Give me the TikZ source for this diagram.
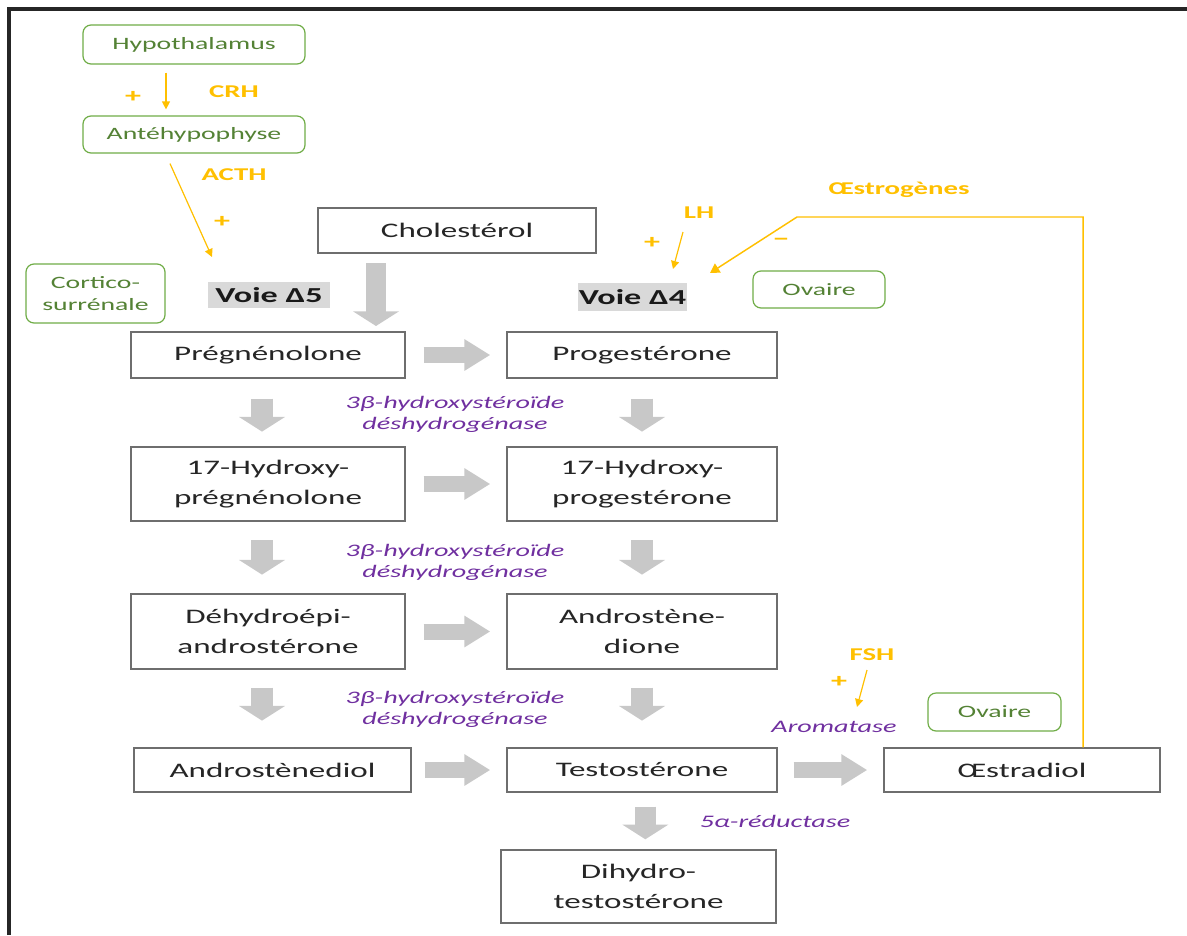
\documentclass[tikz,border=0pt]{standalone}
\usepackage{fontspec}
\setmainfont{Carlito}[FakeStretch=1.6]
\usetikzlibrary{arrows.meta,calc}
\definecolor{boxgray}{HTML}{6E6E6E}
\definecolor{fatgray}{HTML}{C8C8C8}
\definecolor{grnline}{HTML}{70AD47}
\definecolor{grntext}{HTML}{548235}
\definecolor{orng}{HTML}{FFC000}
\definecolor{purp}{HTML}{7030A0}
\definecolor{voiebg}{HTML}{D9D9D9}
\tikzset{
  box/.style={draw=boxgray, line width=1.1pt, fill=white, align=center, inner sep=0pt,
    font=\fontsize{15.5}{22.5}\selectfont, text=black!85},
  gbox/.style={draw=grnline, line width=0.9pt, rounded corners=6pt, align=center, inner sep=0pt,
    font=\fontsize{13}{17}\selectfont, text=grntext},
  voie/.style={fill=voiebg, inner sep=0pt, font=\bfseries\fontsize{16}{18}\selectfont, text=black!90},
  olabel/.style={text=orng, font=\bfseries\fontsize{13.5}{16}\selectfont},
  sign/.style={text=orng, font=\bfseries\fontsize{15}{16}\selectfont},
  enz/.style={text=purp, align=center, font=\itshape\fontsize{13.2}{15.75}\selectfont},
  oarrow/.style={draw=orng, line width=0.9pt, -{Triangle[width=6pt,length=6pt]}},
  hfat/.style={draw=fatgray, line width=12pt, -{Triangle[width=22.5pt,length=19.5pt]}},
  vfat/.style={draw=fatgray, line width=16pt, -{Triangle[width=34pt,length=11pt]}},
}
\begin{document}
\begin{tikzpicture}[x=0.75pt,y=-0.75pt]
\useasboundingbox (0,0) rectangle (1187,935);
\fill[white] (0,0) rectangle (1187,935);
% frame
\draw[line width=2.4pt, black!85] (9,935) -- (9,9) -- (1187,9);

% green boxes
\node[gbox, minimum width=166.5pt, minimum height=29.25pt] (hypo) at (194,44.5) {Hypothalamus};
\node[gbox, minimum width=166.5pt, minimum height=27.75pt] (ante) at (194,134.5) {Antéhypophyse};
\node[gbox, minimum width=104.25pt, minimum height=44.25pt] (cortico) at (95.5,293.5) {Cortico-\\surrénale};
\node[gbox, minimum width=99pt, minimum height=27.75pt] (ov1) at (819,289.5) {Ovaire};
\node[gbox, minimum width=99.75pt, minimum height=28.5pt] (ov2) at (994.5,712) {Ovaire};

% voie labels
\node[voie, minimum width=91.5pt, minimum height=19.5pt] (v5) at (269,295) {Voie Δ5};
\node[voie, minimum width=81.75pt, minimum height=21pt] (v4) at (632.5,297) {Voie Δ4};

% pathway boxes
\node[box, minimum width=208.5pt, minimum height=33.75pt] (chol) at (457,230.5) {Cholestérol};
\node[box, minimum width=205.5pt, minimum height=34.5pt] (preg) at (268,355) {Prégnénolone};
\node[box, minimum width=202.5pt, minimum height=34.5pt] (prog) at (642,355) {Progestérone};
\node[box, minimum width=205.5pt, minimum height=55.5pt] (hpreg) at (268,484) {17-Hydroxy-\\prégnénolone};
\node[box, minimum width=202.5pt, minimum height=55.5pt] (hprog) at (642,484) {17-Hydroxy-\\progestérone};
\node[box, minimum width=205.5pt, minimum height=56.25pt] (dhea) at (268,631.5) {Déhydroépi-\\androstérone};
\node[box, minimum width=202.5pt, minimum height=56.25pt] (andro) at (642,631.5) {Androstène-\\dione};
\node[box, minimum width=207.75pt, minimum height=33pt] (diol) at (272.5,770) {Androstènediol};
\node[box, minimum width=202.5pt, minimum height=33pt] (testo) at (642,770) {Testostérone};
\node[box, minimum width=207pt, minimum height=33pt] (estra) at (1022,770) {Œstradiol};
\node[box, minimum width=206.25pt, minimum height=54.75pt] (dht) at (638.5,886.5) {Dihydro-\\testostérone};

% fat gray arrows
\coordinate (cholA) at (376,263);
\coordinate (cholB) at (376,326);
\draw[vfat, line width=15pt] (cholA) -- (cholB);
\draw[hfat, shorten <=13.5pt, shorten >=12pt] (preg) -- (prog);
\draw[hfat, shorten <=13.5pt, shorten >=12pt] (hpreg) -- (hprog);
\draw[hfat, shorten <=13.5pt, shorten >=12pt] (dhea) -- (andro);
\draw[hfat, shorten <=9.75pt, shorten >=12pt] (diol) -- (testo);
\draw[hfat, shorten <=12pt, shorten >=12pt] (testo) -- (estra);
\draw[vfat, shorten <=15pt, shorten >=11pt] ([xshift=-4.5pt]preg.south) -- ([xshift=-4.5pt]hpreg.north);
\draw[vfat, shorten <=15pt, shorten >=11pt] (prog) -- (hprog);
\draw[vfat, shorten <=14pt, shorten >=14pt] ([xshift=-4.5pt]hpreg.south) -- ([xshift=-4.5pt]dhea.north);
\draw[vfat, shorten <=14pt, shorten >=14pt] (hprog) -- (andro);
\draw[vfat, shorten <=13.5pt, shorten >=20pt] ([xshift=-4.5pt]dhea.south) -- ([xshift=-4.5pt]diol.north -| dhea.south);
\draw[vfat, shorten <=13.5pt, shorten >=20pt] (andro) -- (testo);
\draw[vfat, shorten <=10.5pt, shorten >=7.5pt] ([xshift=2.5pt]testo.south) -- ([xshift=2.5pt]dht.north -| testo.south);

% enzyme labels
\node[enz] (enz1) at (455,414) {3β-hydroxystéroïde\\déshydrogénase};
\node[enz] (enz2) at (455,562) {3β-hydroxystéroïde\\déshydrogénase};
\node[enz] (enz3) at (455,709) {3β-hydroxystéroïde\\déshydrogénase};
\node[enz] (arom) at (834,727) {Aromatase};
\node[enz] (red) at (775,821) {5α-réductase};

% hormonal regulation
\draw[oarrow] ([xshift=-21pt,yshift=-6pt]hypo.south) -- ([xshift=-21pt,yshift=4.5pt]ante.north);
\node[olabel] (crh) at (234,92) {CRH};
\node[sign] (p1) at (133,97) {+};

\coordinate (acthend) at (212,257);
\draw[oarrow] ([xshift=-18pt,yshift=-7.5pt]ante.south) -- (acthend);
\node[olabel] (acth) at (234,175) {ACTH};
\node[sign] (p2) at (222,222) {+};

\coordinate (lhS) at (683,232);
\coordinate (lhE) at (673,269);
\draw[oarrow] (lhS) -- (lhE);
\node[olabel] (lh) at (699,213) {LH};
\node[sign] (p3) at (652,243) {+};

\coordinate (fbcorner) at (797,217);
\coordinate (fbend) at (710,273);
\draw[oarrow, line width=1.1pt, -{Triangle[width=8pt,length=7pt]}] ([xshift=45.75pt]estra.north) |- (fbcorner) -- (fbend);
\node[olabel] (oestro) at (899,190) {Œstrogènes};
\node[sign] (m1) at (781,242) {−};

\coordinate (fshS) at (867,670);
\coordinate (fshE) at (857,707);
\draw[oarrow] (fshS) -- (fshE);
\node[olabel] (fsh) at (872,655) {FSH};
\node[sign] (p4) at (839,682) {+};
\end{tikzpicture}
\end{document}
